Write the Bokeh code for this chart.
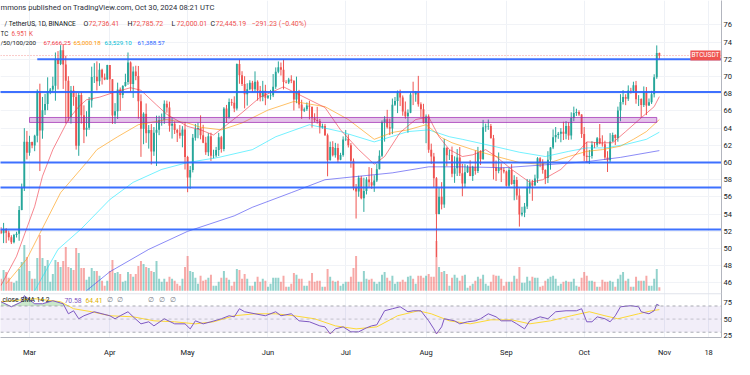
import numpy as np
import pandas as pd
from bokeh.plotting import figure
from bokeh.models import Range1d, LinearAxis, FixedTicker, Label, Span, ColumnDataSource
from bokeh.embed import file_html
from bokeh.resources import INLINE

# ---------------- data (BTC / TetherUS, 1D, values in thousands USDT) ----------------
start_date = "2024-02-19"
end_date = "2024-10-30"

opens = [
 52.14,51.78,52.28,51.84,51.30,50.73,51.57,51.73,54.48,57.04,62.43,
 61.13,62.39,61.99,63.11,68.25,63.72,66.07,66.81,68.30,68.50,68.92,72.08,71.45,73.07,71.39,69.50,65.30,68.39,67.61,61.94,67.84,65.50,63.80,64.06,67.21,69.96,69.99,69.46,70.78,69.89,69.65,
 71.33,69.70,65.46,65.96,68.49,67.84,68.90,69.36,71.62,69.14,70.59,70.06,67.12,63.92,65.66,63.42,63.79,61.28,63.47,63.82,64.94,64.94,66.84,66.41,64.28,64.50,63.77,63.46,63.12,63.84,
 60.64,58.25,59.12,62.89,63.89,64.03,63.16,62.31,61.19,63.07,60.79,60.83,61.45,62.94,61.58,66.27,65.23,67.05,66.94,66.28,71.45,70.14,69.12,67.93,68.53,69.28,68.51,69.39,68.37,67.64,68.35,
 67.53,67.77,67.82,68.80,70.57,71.08,70.79,69.36,69.31,69.65,69.51,67.32,68.24,66.76,66.01,66.19,66.64,66.49,65.14,64.96,64.83,64.10,64.25,63.18,60.28,61.81,60.84,61.68,60.32,60.89,
 62.68,62.77,62.02,60.20,57.04,56.64,58.23,55.85,56.70,58.04,57.72,57.34,57.90,59.23,60.80,64.72,65.04,64.09,63.97,66.71,67.16,68.17,67.55,65.93,65.37,65.80,67.91,67.90,68.25,66.78,66.19,
 64.62,65.35,61.50,60.70,58.16,54.02,56.03,55.13,61.71,60.84,60.89,58.71,59.35,60.60,58.74,57.56,58.87,59.48,58.43,59.49,59.01,61.16,60.38,64.09,64.18,64.25,62.83,59.42,59.03,59.37,59.12,
 58.97,57.30,59.13,57.49,57.97,56.16,53.96,54.16,54.88,57.05,57.65,57.34,58.13,60.50,60.00,59.13,58.21,60.31,61.76,62.95,63.20,63.35,63.58,63.34,64.26,63.14,65.18,65.77,65.88,65.60,
 63.33,60.80,60.65,60.75,62.07,62.06,62.82,62.22,62.13,60.58,60.27,62.45,63.19,62.85,66.05,67.04,67.61,67.42,68.38,68.36,69.00,67.37,67.38,66.68,68.16,66.64,67.01,67.94,69.91,72.736]
highs = [
 52.49,52.98,52.37,52.09,51.55,51.70,51.95,54.94,57.55,64.00,63.68,
 63.11,62.43,63.23,68.50,69.17,67.63,67.99,69.91,68.67,69.98,72.80,72.96,73.65,73.78,72.42,70.04,68.90,68.92,68.11,68.10,68.24,66.65,65.97,67.62,71.15,71.56,71.77,71.55,70.91,70.35,71.37,
 71.34,69.71,66.91,69.29,68.73,69.00,70.33,72.80,71.76,71.17,71.26,71.23,67.93,65.84,66.87,64.36,64.48,64.13,65.45,65.44,65.70,67.23,67.20,67.08,65.28,64.79,63.92,64.36,64.23,64.73,
 60.78,59.60,63.32,64.49,64.63,65.49,64.39,62.99,63.42,63.47,61.49,61.82,63.45,63.10,66.45,66.70,67.45,67.40,67.70,71.52,71.98,70.62,70.04,69.22,69.57,69.50,70.60,69.56,68.91,69.50,69.04,
 67.86,68.45,70.29,71.06,71.76,71.63,71.99,69.58,69.85,70.15,69.56,69.99,68.45,67.30,66.40,66.99,67.19,66.49,65.73,66.48,65.07,64.52,64.49,63.37,62.43,62.48,62.29,62.20,61.13,63.04,
 63.78,63.28,62.27,60.47,57.50,58.47,58.45,58.24,58.30,59.47,59.36,58.52,59.85,61.42,64.90,65.39,66.13,65.10,67.44,67.62,68.37,68.48,67.80,67.10,66.18,68.20,69.40,68.32,70.08,67.00,66.83,
 65.59,65.60,62.20,61.12,58.31,57.04,57.72,62.75,61.75,61.47,61.86,60.72,61.57,61.80,59.85,59.82,59.69,60.27,59.62,61.40,61.82,61.42,64.96,64.52,65.00,64.48,63.21,60.23,61.17,59.90,59.43,
 59.06,59.40,59.81,58.52,58.33,56.99,54.85,55.30,58.09,58.04,57.99,58.59,60.63,60.63,60.38,59.21,61.32,61.79,63.85,64.13,63.56,64.00,64.75,64.82,64.70,65.84,66.50,66.26,66.07,65.62,
 64.13,62.39,61.47,62.48,62.37,62.97,64.48,63.17,62.54,61.32,63.42,63.48,63.28,66.50,67.95,68.42,67.94,68.97,68.69,69.40,69.49,67.84,67.47,68.85,68.78,67.45,68.34,70.27,73.62,72.786]
lows = [
 51.68,50.63,50.63,50.93,50.52,50.60,51.28,50.90,54.45,56.69,60.36,
 60.79,61.66,61.32,62.35,59.01,62.77,65.53,66.09,67.95,68.21,67.19,68.50,71.33,68.56,64.55,64.78,64.53,66.60,61.50,60.78,64.53,62.26,63.04,63.80,66.39,69.25,68.38,68.91,69.07,69.58,69.62,
 68.06,64.49,64.49,65.06,66.01,67.49,68.82,69.04,68.21,67.52,69.57,65.10,60.66,62.13,62.29,61.62,59.77,60.78,59.60,63.18,64.28,64.50,65.80,63.59,62.79,63.32,62.39,62.79,61.77,59.19,
 56.55,56.94,58.85,62.55,62.82,62.70,62.25,60.89,60.75,60.19,60.49,60.63,60.75,61.15,61.31,64.60,65.11,66.60,65.86,66.06,69.16,68.90,66.30,66.62,68.40,68.18,68.23,67.20,67.11,67.13,66.67,
 67.39,67.30,67.61,68.56,70.38,70.12,68.51,69.20,69.13,69.23,66.05,66.90,66.30,65.08,65.87,66.00,65.02,64.06,64.69,64.53,63.38,63.94,63.10,58.40,60.24,60.71,60.57,60.00,60.27,60.68,
 62.50,61.75,59.40,56.77,53.49,56.02,55.72,54.26,56.29,57.16,56.95,56.59,57.73,59.20,60.63,62.43,63.96,63.20,63.30,66.58,65.75,66.57,65.44,65.10,63.46,65.74,66.68,67.07,66.50,65.30,64.53,
 62.25,61.13,59.85,57.12,49.00,53.97,54.55,54.73,59.57,60.29,58.29,57.64,58.43,58.43,56.08,57.10,58.79,58.41,57.86,58.59,58.78,59.72,60.34,63.57,63.80,62.80,58.03,57.86,58.75,57.73,58.74,
 57.20,57.12,57.42,55.61,55.67,52.55,53.74,53.65,54.59,56.38,55.55,57.32,57.63,59.46,58.70,57.49,57.61,59.17,61.56,62.35,62.76,62.36,62.62,62.70,62.63,62.67,64.80,65.42,65.42,62.86,
 60.16,59.98,59.83,60.46,61.67,61.82,62.12,61.85,60.30,58.90,60.05,62.42,62.04,62.42,64.80,66.75,66.67,67.17,68.02,68.10,66.84,66.57,65.26,66.46,65.52,66.59,66.81,67.57,69.73,72.000]
closes = [
 51.78,52.28,51.84,51.30,50.73,51.57,51.73,54.48,57.04,62.43,61.13,
 62.39,61.99,63.11,68.25,63.72,66.07,66.81,68.30,68.50,68.92,72.08,71.45,73.07,71.39,69.50,65.30,68.39,67.61,61.94,67.84,65.50,63.80,64.06,67.21,69.96,69.99,69.46,70.78,69.89,69.65,71.33,
 69.70,65.46,65.96,68.49,67.84,68.90,69.36,71.62,69.14,70.59,70.06,67.12,63.92,65.66,63.42,63.79,61.28,63.47,63.82,64.94,64.94,66.84,66.41,64.28,64.50,63.77,63.46,63.12,63.84,60.64,
 58.25,59.12,62.89,63.89,64.03,63.16,62.31,61.19,63.07,60.79,60.83,61.45,62.94,61.58,66.27,65.23,67.05,66.94,66.28,71.45,70.14,69.12,67.93,68.53,69.28,68.51,69.39,68.37,67.64,68.35,67.53,
 67.77,67.82,68.80,70.57,71.08,70.79,69.36,69.31,69.65,69.51,67.32,68.24,66.76,66.01,66.19,66.64,66.49,65.14,64.96,64.83,64.10,64.25,63.18,60.28,61.81,60.84,61.68,60.32,60.89,62.68,
 62.77,62.02,60.20,57.04,56.64,58.23,55.85,56.70,58.04,57.72,57.34,57.90,59.23,60.80,64.72,65.04,64.09,63.97,66.71,67.16,68.17,67.55,65.93,65.37,65.80,67.91,67.90,68.25,66.78,66.19,64.62,
 65.35,61.50,60.70,58.16,54.02,56.03,55.13,61.71,60.84,60.89,58.71,59.35,60.60,58.74,57.56,58.87,59.48,58.43,59.49,59.01,61.16,60.38,64.09,64.18,64.25,62.83,59.42,59.03,59.37,59.12,58.97,
 57.30,59.13,57.49,57.97,56.16,53.96,54.16,54.88,57.05,57.65,57.34,58.13,60.50,60.00,59.13,58.21,60.31,61.76,62.95,63.20,63.35,63.58,63.34,64.26,63.14,65.18,65.77,65.88,65.60,63.33,
 60.80,60.65,60.75,62.07,62.06,62.82,62.22,62.13,60.58,60.27,62.45,63.19,62.85,66.05,67.04,67.61,67.42,68.38,68.36,69.00,67.37,67.38,66.68,68.16,66.64,67.01,67.94,69.91,72.74,72.445]
volumes_k = [
 24,42,38,26,18,16,20,44,58,92,68,
 40,24,24,66,112,66,50,62,18,34,62,58,48,60,88,48,46,42,86,76,46,46,22,28,46,40,40,30,20,10,20,
 40,62,36,38,34,18,20,38,34,28,34,50,60,54,48,46,40,38,60,24,18,24,18,28,24,20,14,10,24,48,
 70,40,38,26,14,30,20,22,26,32,10,10,18,26,40,26,22,10,18,44,42,24,34,24,10,10,18,28,18,24,20,
 8,14,26,26,26,18,30,8,8,14,36,32,24,24,10,10,20,36,18,20,20,8,8,44,28,20,18,20,10,14,
 18,18,28,46,70,18,18,40,24,22,24,18,14,18,32,38,26,20,30,14,18,18,22,18,28,30,24,14,30,30,26,
 30,34,28,28,100,48,38,40,34,10,26,32,26,20,30,32,6,10,14,20,28,24,32,14,10,18,32,30,30,24,10,
 18,18,18,30,24,48,16,16,28,20,28,26,26,8,10,20,24,28,30,24,10,14,18,20,18,18,24,10,8,26,
 38,30,20,20,18,8,8,22,18,18,20,18,8,24,32,38,20,24,8,8,28,20,20,20,30,10,10,24,44,6.951]

ma20_dates = ["02-19","02-25","03-03","03-06","03-10","03-16","03-20","03-23","03-28","04-03","04-09","04-13","04-19","04-23",
              "05-01","05-06","05-11","05-17","05-22","05-29","06-07","06-13","06-23","06-29","07-06","07-12","07-16","07-22",
              "07-28","08-02","08-06","08-10","08-15","08-19","08-24","08-28","09-03","09-10","09-15","09-22","09-27","10-02",
              "10-07","10-12","10-17","10-23","10-28","10-30"]
ma20_vals = [45.7,49.1,54.9,58.4,61.5,65.0,66.5,67.3,67.6,68.2,68.7,68.4,66.7,65.6,
             64.2,63.8,63.2,64.6,65.8,67.6,68.8,67.9,66.4,63.8,61.5,59.8,60.7,63.5,
             65.0,65.3,63.0,61.5,60.7,60.9,61.5,60.7,59.2,57.7,58.0,59.2,60.7,62.4,
             62.3,62.3,63.6,65.2,66.5,67.666]
ma50_dates = ["02-21","02-29","03-13","03-23","03-27","04-04","04-12","04-23","05-01","05-06","05-14","05-22","06-01","06-11",
              "06-23","07-02","07-12","07-19","07-25","08-01","08-07","08-11","08-19","08-27","09-06","09-14","09-19","09-25",
              "10-02","10-08","10-15","10-20","10-25","10-30"]
ma50_vals = [45.9,48.8,56.5,60.0,61.5,63.0,64.4,65.0,64.6,64.1,63.8,64.6,66.1,67.1,
             66.5,65.0,62.7,63.5,63.8,64.4,62.9,62.3,61.5,60.8,60.0,59.8,60.1,60.7,
             61.3,61.5,61.9,62.7,63.6,65.000]
ma100_dates = ["03-03","03-12","03-21","04-01","04-10","04-21","05-01","05-13","05-26","06-04","06-17","06-29","07-12","07-25",
               "08-02","08-10","08-15","08-24","09-06","09-16","09-25","10-02","10-09","10-17","10-25","10-30"]
ma100_vals = [45.1,49.9,52.3,55.7,57.7,59.2,60.0,60.6,61.5,63.0,64.4,63.6,62.4,63.6,
              63.8,63.0,62.7,62.1,61.2,60.7,61.3,61.7,61.7,62.1,62.7,63.529]
ma200_dates = ["03-23","04-01","04-16","05-01","05-19","05-26","06-10","06-23","07-06","07-19","08-02","08-15","08-31",
               "09-19","10-02","10-15","10-30"]
ma200_vals = [45.1,47.3,49.9,52.0,53.8,54.8,56.5,58.0,58.4,58.8,59.5,59.5,59.4,
              59.8,60.1,60.6,61.389]

rsi_dates = ["02-19","02-23","02-27","02-28","03-03","03-06","03-10","03-14","03-16","03-18","03-20","03-22","03-24","03-26",
             "03-29","04-01","04-03","04-05","04-08","04-10","04-13","04-16","04-18","04-22","04-26","04-30","05-02","05-04",
             "05-07","05-10","05-14","05-17","05-19","05-21","05-23","05-27","05-31","06-04","06-06","06-10","06-13","06-17",
             "06-21","06-23","06-25","06-27","06-30","07-03","07-06","07-09","07-11","07-13","07-16","07-19","07-22","07-25",
             "07-27","07-30","08-02","08-04","08-05","08-07","08-08","08-12","08-14","08-17","08-20","08-22","08-25","08-28",
             "08-30","09-03","09-05","09-08","09-10","09-14","09-17","09-20","09-24","09-28","09-30","10-02","10-04","10-06",
             "10-09","10-11","10-13","10-15","10-19","10-22","10-23","10-26","10-28","10-29","10-30"]
rsi_vals = [76.5,68.8,76.5,85.7,73.4,73.4,78.0,73.4,58.1,62.7,50.5,55.1,58.1,61.2,
            58.1,55.1,50.5,55.1,61.2,53.5,42.8,45.9,39.7,50.5,42.8,42.8,35.1,47.4,
            42.8,45.9,50.5,55.1,53.5,65.8,61.2,58.1,55.1,61.2,55.1,58.1,47.4,45.9,
            39.7,38.2,27.5,35.1,38.2,30.6,30.6,36.7,39.7,41.3,62.7,65.8,68.8,61.2,
            62.7,62.7,47.4,35.1,27.5,38.2,50.5,47.4,42.8,45.9,47.4,50.5,58.1,53.5,
            47.4,47.4,42.8,35.1,47.4,53.5,50.5,61.2,62.7,62.7,65.8,45.9,45.9,53.5,
            50.5,45.9,55.1,68.8,70.4,68.8,61.2,58.1,62.7,72.5,70.58]
rsi_sma_dates = ["02-19","03-03","03-13","03-18","03-25","04-01","04-10","04-18","04-26","05-04","05-11","05-19","05-27","06-04",
                 "06-11","06-19","06-27","07-05","07-13","07-21","07-29","08-03","08-10","08-18","08-26","09-03","09-10","09-18",
                 "09-26","10-03","10-09","10-14","10-22","10-27","10-30"]
rsi_sma_vals = [76.5,81.1,76.5,65.8,61.2,55.1,53.5,47.4,45.9,42.8,45.9,55.1,58.1,58.1,
                55.1,50.5,39.7,35.1,38.2,55.1,62.7,58.1,47.4,42.8,48.9,48.9,42.8,47.4,
                55.1,61.2,55.1,50.5,58.1,62.7,64.41]

level_prices = [72.02, 68.21, 60.00, 57.11, 52.22]
level_labels = ["72", "68", "60", "57", "52"]
level_starts = ["2024-03-04", "2024-02-01", "2024-02-01", "2024-02-01", "2024-02-01"]
zone_start, zone_end = "2024-03-01", "2024-10-29"
zone_low, zone_high = 64.66, 65.24

month_tick_dates = ["2024-03-01","2024-04-01","2024-05-01","2024-06-01","2024-07-01","2024-08-01",
                    "2024-09-01","2024-10-01","2024-11-01","2024-11-18"]
month_tick_labels = ["Mar","Apr","May","Jun","Jul","Aug","Sep","Oct","Nov","18"]
price_ticks = [46,48,50,52,54,56,58,60,62,64,66,68,70,72,74,76]
rsi_ticks = [75, 50, 25]

# ---------------- pixel helpers (layout only; canvas pixels) ----------------
ORIGIN = pd.Timestamp("2024-03-01")
PXD = 2.592
def X(wx): return (wx - 29) / PXD
def Y(wy): return 60 + (163 - wy) / 8.65
def R(wy): return 50 + (320.5 - wy) / 0.66
def V(wy): return (292 - wy) / 0.5
def R2Y(r): return round(Y(320.5 - (r - 50) * 0.66), 3)

def to_days(ds):
    return np.array([(pd.Timestamp(s) - ORIGIN).days for s in ds], dtype=float)
def md_days(mds):
    return to_days(["2024-" + s for s in mds])

UP, DOWN = "#26a69a", "#ef5350"
FONT = "Roboto"
TXT = "#131722"
FR = 721      # right edge of the plotting frame
FB = 339      # bottom edge of the plotting frame

dates = pd.date_range(start_date, end_date, freq="D")
d = np.array([(t - ORIGIN).days for t in dates], dtype=float)
o, h, l, c = map(np.array, (opens, highs, lows, closes))
col = np.where(c >= o, UP, DOWN)
src = ColumnDataSource(dict(x=d, h=h, l=l, top=np.maximum(o, c), bot=np.minimum(o, c),
                            col=col, vol=np.array(volumes_k)))

p = figure(width=734, height=359, output_backend="svg", toolbar_location=None,
           x_range=Range1d(X(0), X(FR)), y_range=Range1d(Y(FB), Y(0)),
           x_axis_location=None, y_axis_location=None,
           min_border_left=0, min_border_right=734 - FR, min_border_top=0, min_border_bottom=359 - FB,
           background_fill_color="white", border_fill_color="white", outline_line_color=None)
p.extra_y_ranges = {"vol": Range1d(V(FB), V(0)), "rsi": Range1d(R(FB), R(0))}

tick_days = [int(v) for v in to_days(month_tick_dates)]
p.xgrid.ticker = FixedTicker(ticks=tick_days)
p.xgrid.grid_line_color = "#eef1f6"
p.ygrid.ticker = FixedTicker(ticks=price_ticks)
p.ygrid.grid_line_color = "#f1f3f7"

xax = LinearAxis(ticker=FixedTicker(ticks=tick_days),
                 major_label_overrides={t: s for t, s in zip(tick_days, month_tick_labels)},
                 axis_line_color="#b2b5be", major_tick_line_color=None, minor_tick_line_color=None,
                 major_label_text_font=FONT, major_label_text_font_size="7.5px",
                 major_label_text_color=TXT, major_label_standoff=4)
p.add_layout(xax, "below")

rt = [R2Y(r) for r in rsi_ticks]
yax = LinearAxis(ticker=FixedTicker(ticks=price_ticks + rt),
                 major_label_overrides={**{t: str(t) for t in price_ticks},
                                        **{k: str(r) for k, r in zip(rt, rsi_ticks)}},
                 axis_line_color="#b2b5be", major_tick_line_color=None, minor_tick_line_color=None,
                 major_tick_out=0, major_tick_in=0,
                 major_label_text_font=FONT, major_label_text_font_size="7.5px",
                 major_label_text_color=TXT, major_label_standoff=2)
p.add_layout(yax, "right")

# volume
p.vbar(x="x", top="vol", bottom=0, width=0.76, fill_color="col", fill_alpha=0.5,
       line_color=None, y_range_name="vol", source=src)
# candles
p.segment(x0="x", y0="l", x1="x", y1="h", line_color="col", line_width=1, source=src)
p.vbar(x="x", top="top", bottom="bot", width=0.72, fill_color="col", line_color=None, source=src)

# moving averages
p.line(md_days(ma200_dates), ma200_vals, line_color="#3d3df0", line_alpha=0.6, line_width=1)
p.line(md_days(ma100_dates), ma100_vals, line_color="#00e5ff", line_alpha=0.55, line_width=1)
p.line(md_days(ma50_dates), ma50_vals, line_color="#ff9800", line_alpha=0.6, line_width=1)
p.line(md_days(ma20_dates), ma20_vals, line_color="#f23645", line_alpha=0.6, line_width=1)

# drawings
p.quad(left=to_days([zone_start]), right=to_days([zone_end]), bottom=[zone_low], top=[zone_high],
       fill_color="#9c27b0", fill_alpha=0.28, line_color="#9c27b0", line_alpha=0.7, line_width=1)
p.segment(x0=to_days(level_starts), y0=level_prices, x1=[X(FR + 20)] * len(level_prices), y1=level_prices,
          line_color="#2962ff", line_width=2, line_alpha=0.9)
p.add_layout(Span(location=closes[-1], dimension="width", line_color=DOWN, line_alpha=0.6,
                  line_dash="1 2", line_width=1))

# pane separator
p.add_layout(Span(location=Y(295), dimension="width", line_color="#e0e3eb", line_width=1))

# RSI pane
p.quad(left=[X(-10)], right=[X(FR + 20)], bottom=[30], top=[70], y_range_name="rsi",
       fill_color="#7e57c2", fill_alpha=0.1, line_color=None)
for lv, a in ((70, 0.8), (50, 0.5), (30, 0.8)):
    p.add_layout(Span(location=lv, dimension="width", y_range_name="rsi", line_color="#9598a1",
                      line_alpha=a, line_dash="3 3", line_width=1))
rx = md_days(rsi_dates)
rv = np.array(rsi_vals)
p.varea(x=rx, y1=np.full(len(rv), 70.0), y2=np.maximum(rv, 70), y_range_name="rsi",
        fill_color="#4caf50", fill_alpha=0.3)
p.varea(x=rx, y1=np.minimum(rv, 30), y2=np.full(len(rv), 30.0), y_range_name="rsi",
        fill_color="#f23645", fill_alpha=0.25)
p.line(md_days(rsi_sma_dates), rsi_sma_vals, y_range_name="rsi", line_color="#fdd835", line_width=1)
p.line(rx, rv, y_range_name="rsi", line_color="#7e57c2", line_width=1)

# ---------------- texts ----------------
def lab(wx, wy, text, color=TXT, size="7.5px", align="left", style="normal", bg=None, pad=0):
    kw = dict(x=X(wx), y=Y(wy), text=text, text_color=color, text_font=FONT,
              text_font_size=size, text_align=align, text_baseline="middle", text_font_style=style)
    if bg is not None:
        kw.update(background_fill_color=bg, padding=pad)
    p.add_layout(Label(**kw))

lab(0, 7.5, "mmons published on TradingView.com, Oct 30, 2024 08:21 UTC", color="#2a2e39", size="7.6px")
lab(4, 23.5, "/ TetherUS, 1D, BINANCE", size="6.5px")
for wx, k, v in ((83, "O", "72,736.41"), (127, "H", "72,785.72"), (171, "L", "72,000.01"), (210, "C", "72,445.19")):
    lab(wx, 23.5, k, size="7px")
    lab(wx + 5, 23.5, v, color=DOWN, size="7px")
lab(251, 23.5, "\u2212291.23 (\u22120.40%)", color=DOWN, size="7px")
lab(0, 33.5, "TC", size="6.3px")
lab(11, 33.5, "6.951 K", color=DOWN, size="6.3px")
lab(0, 42.7, "/50/100/200", size="6.2px")
for wx, v, cc in ((43, "67,666.25", "#f23645"), (73, "65,000.18", "#ff9800"),
                  (104, "63,529.10", "#00bcd4"), (137, "61,388.57", "#2962ff")):
    lab(wx, 42.7, v, color=cc, size="6.2px")

lab(2, 301.5, "close SMA 14 2", size="6.8px")
lab(64, 301.5, "70.58", color="#7e57c2", size="6.8px")
lab(85, 301.5, "64.41", color="#e0b000", size="6.8px")
for wx in (106, 116, 147, 158, 169):
    lab(wx, 301.5, "\u2205", color="#787b86", size="6.8px")
lab(0, 354, "dingView", size="7px", style="bold")

# price-scale tags
lab(FR - 1, 55.3, "BTCUSDT", color="white", size="6.5px", align="right", bg=DOWN, pad=1)
lab(FR + 2, 54.5, "72", color="white", size="7px", bg=DOWN, pad=1)
lab(FR + 2, 61.5, "15", color="white", size="7px", bg=DOWN, pad=1)
tag_y = [70.5, None, None, None, None]
for lp, lt, ty in zip(level_prices, level_labels, tag_y):
    wy = ty if ty is not None else 163 - (lp - 60) * 8.65
    lab(FR + 2, wy, lt, color="white", size="7px", bg="#2962ff", pad=1)

open("out.html", "w").write(file_html(p, INLINE))
